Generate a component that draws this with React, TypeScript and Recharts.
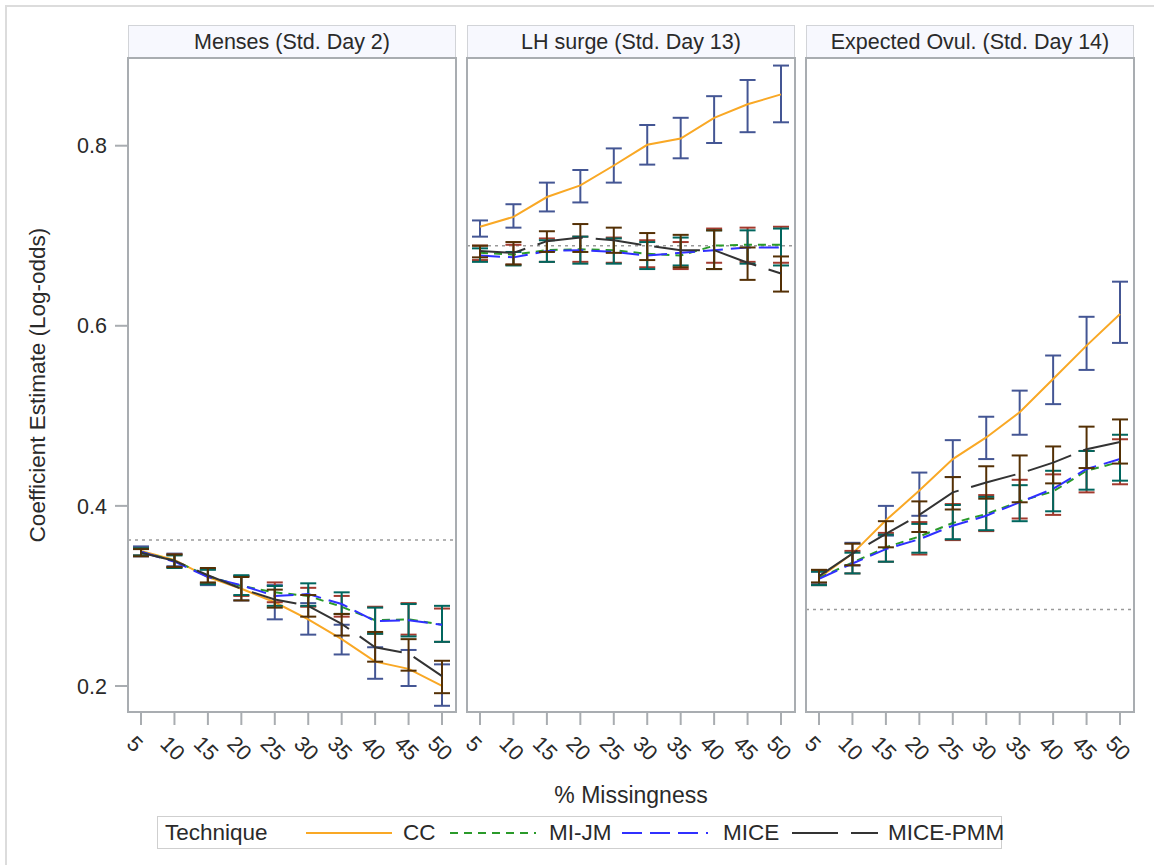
import React from 'react';
import { LineChart, Line, XAxis, YAxis, ErrorBar, ReferenceLine } from 'recharts';

// % missingness levels (x axis, shared by all panels)
const missing = [5, 10, 15, 20, 25, 30, 35, 40, 45, 50];
const yTicks = [0.2, 0.4, 0.6, 0.8];

const panelTitles = ['Menses (Std. Day 2)', 'LH surge (Std. Day 13)', 'Expected Ovul. (Std. Day 14)'];
// full-data estimate drawn as the dotted reference line
const fullDataEstimates = [0.362, 0.689, 0.285];

// ---- Menses (Std. Day 2) ----
const mensesCC = [0.350, 0.340, 0.321, 0.308, 0.293, 0.274, 0.252, 0.227, 0.219, 0.200];
const mensesCCLo = [0.344, 0.333, 0.312, 0.295, 0.274, 0.257, 0.235, 0.208, 0.200, 0.178];
const mensesCCHi = [0.355, 0.347, 0.330, 0.322, 0.312, 0.292, 0.268, 0.243, 0.240, 0.224];
const mensesMIJM = [0.349, 0.339, 0.322, 0.311, 0.304, 0.300, 0.288, 0.273, 0.274, 0.268];
const mensesMIJMLo = [0.345, 0.332, 0.314, 0.300, 0.293, 0.288, 0.277, 0.258, 0.257, 0.249];
const mensesMIJMHi = [0.353, 0.346, 0.330, 0.322, 0.315, 0.309, 0.300, 0.288, 0.292, 0.286];
const mensesMICE = [0.349, 0.338, 0.321, 0.312, 0.300, 0.302, 0.291, 0.272, 0.273, 0.268];
const mensesMICELo = [0.345, 0.331, 0.313, 0.301, 0.289, 0.289, 0.280, 0.258, 0.255, 0.249];
const mensesMICEHi = [0.353, 0.345, 0.329, 0.323, 0.311, 0.314, 0.304, 0.287, 0.291, 0.289];
const mensesPMM = [0.348, 0.339, 0.323, 0.308, 0.296, 0.289, 0.269, 0.243, 0.236, 0.211];
const mensesPMMLo = [0.344, 0.332, 0.315, 0.295, 0.287, 0.277, 0.256, 0.227, 0.217, 0.192];
const mensesPMMHi = [0.352, 0.346, 0.331, 0.321, 0.307, 0.301, 0.280, 0.260, 0.252, 0.228];

// ---- LH surge (Std. Day 13) ----
const lhCC = [0.710, 0.721, 0.743, 0.756, 0.778, 0.801, 0.808, 0.831, 0.846, 0.857];
const lhCCLo = [0.699, 0.709, 0.727, 0.737, 0.759, 0.779, 0.786, 0.803, 0.815, 0.826];
const lhCCHi = [0.717, 0.735, 0.759, 0.773, 0.797, 0.823, 0.831, 0.855, 0.873, 0.889];
const lhMIJM = [0.681, 0.679, 0.684, 0.685, 0.684, 0.680, 0.678, 0.689, 0.690, 0.690];
const lhMIJMLo = [0.673, 0.668, 0.671, 0.671, 0.670, 0.665, 0.663, 0.670, 0.671, 0.670];
const lhMIJMHi = [0.689, 0.690, 0.697, 0.699, 0.698, 0.695, 0.693, 0.708, 0.709, 0.710];
const lhMICE = [0.678, 0.676, 0.683, 0.684, 0.682, 0.678, 0.681, 0.684, 0.687, 0.687];
const lhMICELo = [0.671, 0.667, 0.671, 0.669, 0.669, 0.663, 0.667, 0.663, 0.669, 0.667];
const lhMICEHi = [0.686, 0.682, 0.695, 0.699, 0.697, 0.693, 0.698, 0.706, 0.706, 0.708];
const lhPMM = [0.683, 0.681, 0.694, 0.698, 0.695, 0.689, 0.684, 0.684, 0.670, 0.658];
const lhPMMLo = [0.676, 0.668, 0.682, 0.682, 0.681, 0.673, 0.665, 0.663, 0.651, 0.638];
const lhPMMHi = [0.689, 0.693, 0.705, 0.713, 0.709, 0.703, 0.701, 0.706, 0.687, 0.677];

// ---- Expected Ovul. (Std. Day 14) ----
const ovCC = [0.320, 0.347, 0.384, 0.417, 0.452, 0.476, 0.504, 0.541, 0.578, 0.613];
const ovCCLo = [0.313, 0.334, 0.367, 0.389, 0.432, 0.452, 0.479, 0.513, 0.551, 0.581];
const ovCCHi = [0.327, 0.359, 0.400, 0.437, 0.473, 0.499, 0.528, 0.567, 0.610, 0.649];
const ovMIJM = [0.320, 0.337, 0.354, 0.366, 0.381, 0.391, 0.405, 0.416, 0.439, 0.449];
const ovMIJMLo = [0.312, 0.325, 0.338, 0.346, 0.362, 0.372, 0.386, 0.390, 0.415, 0.424];
const ovMIJMHi = [0.328, 0.350, 0.370, 0.382, 0.402, 0.412, 0.429, 0.435, 0.461, 0.474];
const ovMICE = [0.319, 0.336, 0.352, 0.363, 0.378, 0.389, 0.404, 0.419, 0.441, 0.452];
const ovMICELo = [0.312, 0.325, 0.338, 0.348, 0.363, 0.373, 0.383, 0.394, 0.418, 0.428];
const ovMICEHi = [0.327, 0.348, 0.368, 0.380, 0.401, 0.410, 0.423, 0.439, 0.461, 0.479];
const ovPMM = [0.322, 0.347, 0.369, 0.390, 0.415, 0.426, 0.436, 0.448, 0.463, 0.471];
const ovPMMLo = [0.315, 0.334, 0.354, 0.371, 0.396, 0.408, 0.404, 0.425, 0.442, 0.447];
const ovPMMHi = [0.329, 0.358, 0.383, 0.405, 0.432, 0.444, 0.456, 0.466, 0.488, 0.496];

const FONT = '"Liberation Sans", Arial, sans-serif';
const FRAME = '#a9adb1';
const TEXT = '#2a2a2a';

// layout (page pixels)
const PANEL_LEFT = [128, 467, 806];
const PLOT_W = 328;
const PLOT_TOP = 58;
const PLOT_H = 654;
const HEADER_TOP = 25;
const Y_AXIS_W = 100;
const SIDE_PAD = 20; // room for the diagonal labels on panels without a y axis
const X_AXIS_H = 60;
const X_DOMAIN: [number, number] = [3.056, 52.09];
const Y_DOMAIN: [number, number] = [0.1711, 0.8974];

const techniques = [
  { key: 'cc', name: 'CC', line: '#F9A825', dash: undefined as string | undefined, bar: '#445694' },
  { key: 'mijm', name: 'MI-JM', line: '#2A9A2A', dash: '8 6', bar: '#A23A2E' },
  { key: 'mice', name: 'MICE', line: '#3030FF', dash: '20 8', bar: '#01665E' },
  { key: 'pmm', name: 'MICE-PMM', line: '#333333', dash: '46 13', bar: '#543005' },
];

type Est = { est: number[]; lo: number[]; hi: number[] };

function buildRows(series: Record<string, Est>) {
  return missing.map((m, i) => {
    const row: Record<string, any> = { m };
    Object.keys(series).forEach((k) => {
      const s = series[k];
      row[k] = s.est[i];
      row[k + 'Err'] = [s.est[i] - s.lo[i], s.hi[i] - s.est[i]];
    });
    return row;
  });
}

const panelRows = [
  buildRows({
    cc: { est: mensesCC, lo: mensesCCLo, hi: mensesCCHi },
    mijm: { est: mensesMIJM, lo: mensesMIJMLo, hi: mensesMIJMHi },
    mice: { est: mensesMICE, lo: mensesMICELo, hi: mensesMICEHi },
    pmm: { est: mensesPMM, lo: mensesPMMLo, hi: mensesPMMHi },
  }),
  buildRows({
    cc: { est: lhCC, lo: lhCCLo, hi: lhCCHi },
    mijm: { est: lhMIJM, lo: lhMIJMLo, hi: lhMIJMHi },
    mice: { est: lhMICE, lo: lhMICELo, hi: lhMICEHi },
    pmm: { est: lhPMM, lo: lhPMMLo, hi: lhPMMHi },
  }),
  buildRows({
    cc: { est: ovCC, lo: ovCCLo, hi: ovCCHi },
    mijm: { est: ovMIJM, lo: ovMIJMLo, hi: ovMIJMHi },
    mice: { est: ovMICE, lo: ovMICELo, hi: ovMICEHi },
    pmm: { est: ovPMM, lo: ovPMMLo, hi: ovPMMHi },
  }),
];

// diagonal tick labels under each panel
const DiagonalTick = (props: any) => {
  const { x, y, payload } = props;
  return (
    <g transform={`translate(${x - 10.5},${y + 15})`}>
      <text
        transform="rotate(45)"
        textAnchor="start"
        dominantBaseline="central"
        fontSize={21.5}
        fontFamily={FONT}
        fill={TEXT}
      >
        {payload.value}
      </text>
    </g>
  );
};

function Panel({ index }: { index: number }) {
  const left = PANEL_LEFT[index];
  const showY = index === 0;
  const padLeft = showY ? 0 : SIDE_PAD;
  const yW = showY ? Y_AXIS_W : 0;
  return (
    <>
      <div
        style={{
          position: 'absolute',
          left,
          top: HEADER_TOP,
          width: PLOT_W,
          height: PLOT_TOP - HEADER_TOP,
          boxSizing: 'border-box',
          background: '#f7f8fe',
          border: '1.5px solid #d2d4d8',
          borderBottom: 'none',
          fontFamily: FONT,
          fontSize: 21.5,
          color: TEXT,
          display: 'flex',
          alignItems: 'center',
          justifyContent: 'center',
        }}
      >
        {panelTitles[index]}
      </div>
      <div style={{ position: 'absolute', left: left - yW - padLeft, top: PLOT_TOP }}>
        <LineChart
          width={PLOT_W + yW + padLeft}
          height={PLOT_H + X_AXIS_H}
          data={panelRows[index]}
          margin={{ top: 0, right: 0, bottom: 0, left: padLeft }}
        >
          <XAxis
            dataKey="m"
            type="number"
            domain={X_DOMAIN}
            allowDataOverflow
            ticks={missing}
            interval={0}
            height={X_AXIS_H}
            axisLine={false}
            tickSize={13}
            tickMargin={0}
            tickLine={{ stroke: FRAME, strokeWidth: 2 }}
            tick={<DiagonalTick />}
          />
          <YAxis
            type="number"
            domain={Y_DOMAIN}
            allowDataOverflow
            ticks={yTicks}
            hide={!showY}
            width={Y_AXIS_W}
            axisLine={false}
            tickSize={13}
            tickMargin={8}
            tickLine={{ stroke: FRAME, strokeWidth: 2 }}
            tickFormatter={(v: number) => v.toFixed(1)}
            tick={{ fontSize: 21.5, fontFamily: FONT, fill: TEXT }}
          />
          <ReferenceLine y={fullDataEstimates[index]} stroke="#9a9a9a" strokeWidth={1.5} strokeDasharray="3 4" />
          {techniques.map((t) => (
            <Line
              key={t.key}
              dataKey={t.key}
              name={t.name}
              type="linear"
              stroke={t.line}
              strokeWidth={2}
              strokeDasharray={t.dash}
              dot={false}
              activeDot={false}
              isAnimationActive={false}
            >
              <ErrorBar
                dataKey={t.key + 'Err'}
                direction="y"
                width={8}
                stroke={t.bar}
                strokeWidth={2}
                isAnimationActive={false}
              />
            </Line>
          ))}
        </LineChart>
      </div>
      {/* panel frame */}
      <div
        style={{
          position: 'absolute',
          left: left - 1,
          top: PLOT_TOP - 1,
          width: PLOT_W + 2,
          height: PLOT_H + 2,
          boxSizing: 'border-box',
          border: `2px solid ${FRAME}`,
          pointerEvents: 'none',
        }}
      />
    </>
  );
}

const LegendSample = ({ color, dash }: { color: string; dash?: string }) => (
  <svg width={86} height={6} style={{ display: 'block' }}>
    <line x1={0} y1={3} x2={86} y2={3} stroke={color} strokeWidth={2} strokeDasharray={dash} />
  </svg>
);

const legendPos = [
  { line: 306, text: 403 },
  { line: 450, text: 549 },
  { line: 622, text: 723 },
  { line: 792, text: 888 },
];

export default function App() {
  return (
    <div
      style={{
        position: 'absolute',
        left: 0,
        top: 0,
        width: 1154,
        height: 865,
        background: '#fff',
        overflow: 'hidden',
        fontFamily: FONT,
      }}
    >
      {/* outer graph border */}
      <div
        style={{
          position: 'absolute',
          left: 5,
          top: 5,
          width: 1160,
          height: 880,
          border: '2px solid #dcdcdc',
        }}
      />

      {/* y axis title */}
      <div
        style={{
          position: 'absolute',
          left: 38,
          top: (PLOT_TOP + PLOT_TOP + PLOT_H) / 2,
          transform: 'translate(-50%, -50%) rotate(-90deg)',
          whiteSpace: 'nowrap',
          fontSize: 22.5,
          color: TEXT,
        }}
      >
        Coefficient Estimate (Log-odds)
      </div>

      {[0, 1, 2].map((i) => (
        <Panel key={i} index={i} />
      ))}

      {/* x axis title */}
      <div
        style={{
          position: 'absolute',
          left: (PANEL_LEFT[0] + PANEL_LEFT[2] + PLOT_W) / 2,
          top: 795,
          transform: 'translate(-50%, -50%)',
          whiteSpace: 'nowrap',
          fontSize: 23,
          color: TEXT,
        }}
      >
        % Missingness
      </div>

      {/* legend */}
      <div
        style={{
          position: 'absolute',
          left: 157,
          top: 816,
          width: 845,
          height: 33,
          boxSizing: 'border-box',
          border: '1.5px solid #cfcfcf',
        }}
      />
      <div
        style={{
          position: 'absolute',
          left: 165,
          top: 833,
          transform: 'translateY(-50%)',
          fontSize: 22.5,
          color: TEXT,
        }}
      >
        Technique
      </div>
      {techniques.map((t, i) => (
        <React.Fragment key={t.key}>
          <div style={{ position: 'absolute', left: legendPos[i].line, top: 830 }}>
            <LegendSample color={t.line} dash={t.dash} />
          </div>
          <div
            style={{
              position: 'absolute',
              left: legendPos[i].text,
              top: 833,
              transform: 'translateY(-50%)',
              fontSize: 22.5,
              color: TEXT,
              whiteSpace: 'nowrap',
            }}
          >
            {t.name}
          </div>
        </React.Fragment>
      ))}
    </div>
  );
}
